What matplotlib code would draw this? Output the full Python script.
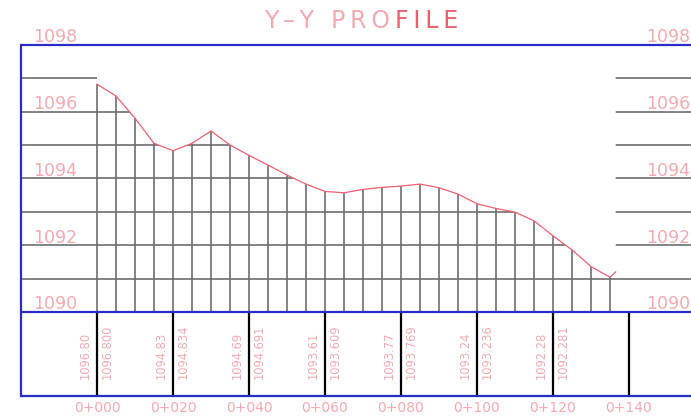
import numpy as np
import matplotlib
matplotlib.use('Agg')
import matplotlib.pyplot as plt
from matplotlib.patches import Polygon

# chainage (m) of the section lines and ground level read at each one
stations = [0, 5, 10, 15, 20, 25, 30, 35, 40, 45, 50, 55, 60, 65,
            70, 75, 80, 85, 90, 95, 100, 105, 110, 115, 120, 125, 130, 135]
ground = [1096.82, 1096.47, 1095.80, 1095.05, 1094.83, 1095.05, 1095.42,
          1095.00, 1094.69, 1094.40, 1094.10, 1093.83, 1093.61, 1093.57,
          1093.67, 1093.73, 1093.77, 1093.83, 1093.72, 1093.53, 1093.24,
          1093.10, 1092.99, 1092.73, 1092.28, 1091.86, 1091.36, 1091.04]
# the red line ends with a short kink past the last section
end_x = 136.5
end_y = 1091.2

major = [0, 20, 40, 60, 80, 100, 120, 140]
major_names = ['0+000', '0+020', '0+040', '0+060', '0+080', '0+100', '0+120', '0+140']
lev_short = ['1096.80', '1094.83', '1094.69', '1093.61', '1093.77', '1093.24', '1092.28']
lev_long = ['1096.800', '1094.834', '1094.691', '1093.609', '1093.769', '1093.236', '1092.281']
datum = 1090
top = 1098
band_bot = 1087.5
frame_x = -20
level_marks = [1090, 1092, 1094, 1096, 1098]

blue = '#2b2bc8'
grey = '#6e6e6e'
pink = '#f4aab0'
red = '#ee6070'

sx = 3.8    # px per metre along
sy = 33.4   # px per metre up

fig = plt.figure(figsize=(6.91, 4.18), dpi=100)
ax = fig.add_axes([0, 0, 1, 1])
ax.set_xlim(-97 / sx, (691 - 97) / sx)
ax.set_ylim(datum - (418 - 312) / sy, datum + 312 / sy)
ax.axis('off')

prof_x = stations + [end_x]
prof_y = ground + [end_y]

# horizontal level lines, only shown below the ground line
hl = ax.hlines(range(datum + 1, top), frame_x, 200, color=grey, lw=1.2)
verts = [(frame_x, datum), (frame_x, top), (0, top)] + list(zip(prof_x, prof_y)) \
    + [(end_x, top), (200, top), (200, datum)]
clip = Polygon(verts, closed=True, transform=ax.transData)
hl.set_clip_path(clip)

ax.vlines(stations, datum, ground, color=grey, lw=1.2)
ax.vlines(major, band_bot, datum, color='black', lw=1.6)
ax.plot(prof_x, prof_y, color=red, lw=0.9)

# frame
ax.plot([frame_x, frame_x], [band_bot, top], color=blue, lw=1.6)
ax.hlines([top, datum, band_bot], frame_x, 200, color=blue, lw=1.6)

for lv in level_marks:
    ax.text(-16.8, lv + 0.08, str(lv), color=pink, fontsize=12.5, va='baseline')
    ax.text(144.5, lv + 0.08, str(lv), color=pink, fontsize=12.5, va='baseline')

for st, a, b in zip(major, lev_short, lev_long):
    ax.text(st - 3.2, 1088.0, a, rotation=90, ha='center', va='bottom',
            color=pink, fontsize=8.3)
    ax.text(st + 2.7, 1088.0, b, rotation=90, ha='center', va='bottom',
            color=pink, fontsize=8.3)

for st, nm in zip(major, major_names):
    ax.text(st, 1087.13, nm, ha='center', va='center', color=pink, fontsize=10)

ts = '\u2009'
ax.text(78.4, 1098.5, ts.join('Y\u2013Y PRO') + ts, ha='right', va='baseline',
        color=pink, fontsize=17)
ax.text(78.4, 1098.5, ts.join('FILE'), ha='left', va='baseline', color=red, fontsize=17)

fig.savefig('out.png', dpi=100)
